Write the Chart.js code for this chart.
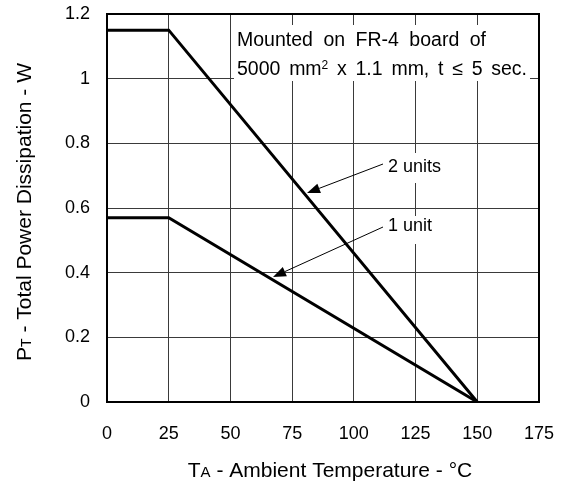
<!DOCTYPE html>
<html>
<head>
<meta charset="utf-8">
<script src="https://cdn.jsdelivr.net/npm/chart.js@4.4.1/dist/chart.umd.min.js"></script>
<style>
  body { margin: 0; background: #fff; }
</style>
</head>
<body>
<canvas id="graph" width="569" height="489"></canvas>
<script>
const temps = [0, 25, 150];
const twoUnits = [1.15, 1.15, 0];
const oneUnit = [0.57, 0.57, 0];
const xTicks = [0, 25, 50, 75, 100, 125, 150, 175];
const yTicks = [0, 0.2, 0.4, 0.6, 0.8, 1, 1.2];
const seriesNames = ["2 units", "1 unit"];

const FONT = "'Liberation Sans', Arial, sans-serif";

function pts(xs, ys) {
    return xs.map((x, i) => ({ x: x, y: ys[i] }));
}

// draws pieces of text one after another: [text, size, dy]
function drawRuns(c, runs, x, y) {
    let cx = x;
    runs.forEach(r => {
        c.font = r[1] + "px " + FONT;
        c.fillText(r[0], cx, y + (r[2] || 0));
        cx += c.measureText(r[0]).width;
    });
    return cx - x;
}
function runsWidth(c, runs) {
    let w = 0;
    runs.forEach(r => {
        c.font = r[1] + "px " + FONT;
        w += c.measureText(r[0]).width;
    });
    return w;
}
// words spread out so the line fills the given width
function drawJustified(c, words, x, y, width) {
    let total = 0;
    words.forEach(w => total += runsWidth(c, w));
    let gap = (width - total) / (words.length - 1);
    let cx = x;
    words.forEach(w => {
        cx += drawRuns(c, w, cx, y) + gap;
    });
}

function arrow(c, x1, y1, x2, y2) {
    c.save();
    c.strokeStyle = "#000";
    c.fillStyle = "#000";
    c.lineWidth = 1;
    let a = Math.atan2(y2 - y1, x2 - x1);
    let len = 13, w = 5;
    let bx = x2 - len * Math.cos(a), by = y2 - len * Math.sin(a);
    c.beginPath();
    c.moveTo(x1, y1);
    c.lineTo(bx, by);
    c.stroke();
    c.beginPath();
    c.moveTo(x2, y2);
    c.lineTo(bx + w * Math.sin(a), by - w * Math.cos(a));
    c.lineTo(bx - w * Math.sin(a), by + w * Math.cos(a));
    c.closePath();
    c.fill();
    c.restore();
}

const notes = {
    id: "notes",
    beforeDatasetsDraw(chart) {
        const c = chart.ctx;
        c.save();
        c.fillStyle = "#fff";
        c.fillRect(234, 25, 296, 56);
        c.fillRect(384, 153, 70, 30);
        c.fillRect(384, 216, 60, 28);
        c.fillStyle = "#000";
        c.textBaseline = "alphabetic";
        c.textAlign = "left";
        const s = 19.5;
        drawJustified(c, "Mounted on FR-4 board of".split(" ").map(w => [[w, s]]), 237, 46, 249);
        drawJustified(c, [[["5000", s]], [["mm", s], ["2", 12, -6]], [["x", s]], [["1.1", s]], [["mm,", s]],
            [["t", s]], [["\u2264", s]], [["5", s]], [["sec.", s]]], 237, 75, 290);
        drawRuns(c, [[seriesNames[0], 18]], 388, 172);
        drawRuns(c, [[seriesNames[1], 18]], 388, 231);
        c.restore();
    },
    afterDatasetsDraw(chart) {
        const c = chart.ctx;
        const a = chart.chartArea;
        c.save();
        c.strokeStyle = "#000";
        c.lineWidth = 2;
        c.strokeRect(a.left, a.top, a.right - a.left, a.bottom - a.top);
        c.restore();
        arrow(c, 383, 164, 307, 193);
        arrow(c, 383, 227, 273, 277);
    },
    afterDraw(chart) {
        const c = chart.ctx;
        c.save();
        c.fillStyle = "#000";
        c.textBaseline = "alphabetic";
        const xr = [["T", 21], ["A", 15], [" - Ambient Temperature - \u00B0C", 21]];
        let w = runsWidth(c, xr);
        drawRuns(c, xr, 330 - w / 2, 477);
        c.translate(31, 212);
        c.rotate(-Math.PI / 2);
        const yr = [["P", 21], ["T", 14], [" - Total Power Dissipation - W", 21]];
        w = runsWidth(c, yr);
        drawRuns(c, yr, -w / 2, 0);
        c.restore();
    }
};

new Chart(document.getElementById("graph"), {
    type: "line",
    data: {
        datasets: [
            { label: seriesNames[0], data: pts(temps, twoUnits) },
            { label: seriesNames[1], data: pts(temps, oneUnit) }
        ]
    },
    options: {
        responsive: false,
        animation: false,
        layout: { padding: { top: 14, right: 30, left: 0, bottom: 0 } },
        elements: {
            line: { borderColor: "#000", borderWidth: 3, tension: 0, fill: false },
            point: { radius: 0 }
        },
        plugins: { legend: { display: false }, tooltip: { enabled: false } },
        scales: {
            x: {
                type: "linear",
                min: 0, max: 175,
                afterBuildTicks: s => { s.ticks = xTicks.map(v => ({ value: v })); },
                afterFit: s => { s.height = 87; s.paddingLeft = 0; s.paddingRight = 0; },
                ticks: { color: "#000", font: { family: FONT, size: 18 }, padding: 21 },
                grid: { color: "#3a3a3a", lineWidth: 1, drawTicks: false },
                border: { display: false }
            },
            y: {
                min: 0, max: 1.2,
                afterBuildTicks: s => { s.ticks = yTicks.map(v => ({ value: v })); },
                afterFit: s => { s.width = 107; s.paddingTop = 0; s.paddingBottom = 0; },
                ticks: {
                    color: "#000", font: { family: FONT, size: 18 }, padding: 17,
                    callback: v => String(Math.round(v * 10) / 10)
                },
                grid: { color: "#3a3a3a", lineWidth: 1, drawTicks: false },
                border: { display: false }
            }
        }
    },
    plugins: [notes]
});
</script>
</body>
</html>
